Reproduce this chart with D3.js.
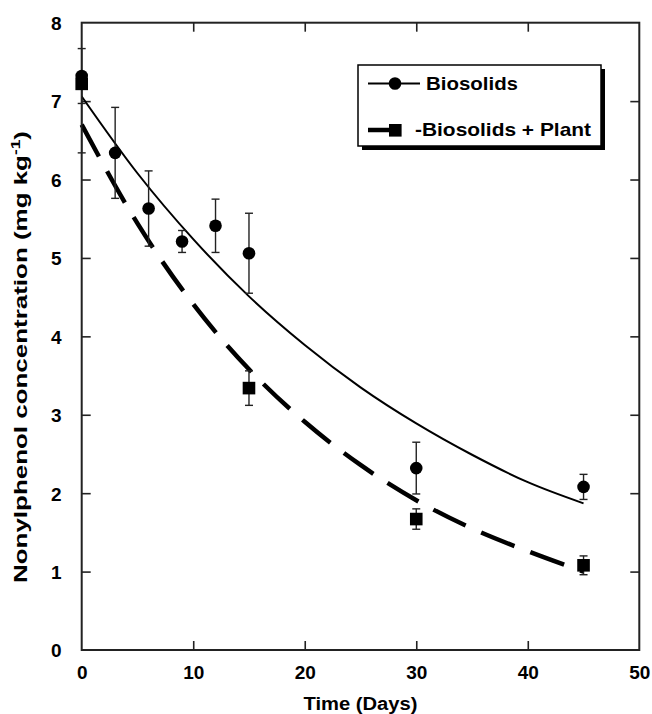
<!DOCTYPE html>
<html>
<head>
<meta charset="utf-8">
<script src="https://cdn.jsdelivr.net/npm/d3@7"></script>
<style>
  html, body { margin: 0; padding: 0; background: #fff; }
  svg { display: block; }
  text { font-family: "Liberation Sans", Arial, Helvetica, sans-serif; font-weight: bold; fill: #000; }
</style>
</head>
<body>
<svg id="chart" width="652" height="714"></svg>
<script>
// ---- data ----
const days = [0, 3, 6, 9, 12, 15, 30, 45];
const biosolids = [7.32, 6.34, 5.63, 5.21, 5.41, 5.06, 2.32, 2.08];
const biosolidsErrUp = [0.35, 0.58, 0.48, 0.14, 0.34, 0.51, 0.33, 0.16];
const biosolidsErrLow = [0.35, 0.58, 0.48, 0.14, 0.34, 0.51, 0.33, 0.16];

const plantDays = [0, 15, 30, 45];
const plant = [7.22, 3.34, 1.67, 1.08];
const plantErrUp = [0.05, 0.22, 0.13, 0.12];
const plantErrLow = [0.88, 0.22, 0.13, 0.12];

const fitDays = [0, 5, 10, 15, 20, 25, 30, 35, 40, 45];
const biosolidsFit = [7.06, 6.08, 5.24, 4.51, 3.89, 3.35, 2.89, 2.49, 2.14, 1.87];
const plantFit = [6.70, 5.44, 4.41, 3.58, 2.91, 2.36, 1.91, 1.55, 1.26, 1.00];

const xTicks = [0, 10, 20, 30, 40, 50];
const yTicks = [0, 1, 2, 3, 4, 5, 6, 7, 8];
const seriesNames = ["Biosolids", "-Biosolids + Plant"];
const xTitle = "Time (Days)";
const yTitle = "Nonylphenol concentration (mg kg";

// ---- layout ----
const svg = d3.select("#chart");
const L = 81.7, R = 639.3, T = 22.7, B = 650;
const x = d3.scaleLinear().domain([0, 50]).range([L, R]);
const y = d3.scaleLinear().domain([0, 8]).range([B, T]);
const axisColor = "#222";
const tickLen = 9;

// frame
svg.append("rect").attr("x", L).attr("y", T).attr("width", R - L).attr("height", B - T)
  .attr("fill", "none").attr("stroke", axisColor).attr("stroke-width", 2);

// axes with inward ticks
const gx = svg.append("g").attr("transform", `translate(0,${B})`)
  .call(d3.axisBottom(x).tickValues(xTicks).tickSizeInner(-tickLen).tickSizeOuter(0).tickPadding(16));
const gxt = svg.append("g").attr("transform", `translate(0,${T})`)
  .call(d3.axisTop(x).tickValues(xTicks.slice(1, -1)).tickSizeInner(-tickLen).tickSizeOuter(0).tickFormat(""));
const gy = svg.append("g").attr("transform", `translate(${L},0)`)
  .call(d3.axisLeft(y).tickValues(yTicks).tickSizeInner(-tickLen).tickSizeOuter(0).tickPadding(20));
const gyr = svg.append("g").attr("transform", `translate(${R},0)`)
  .call(d3.axisRight(y).tickValues(yTicks.slice(1, -1)).tickSizeInner(-tickLen).tickSizeOuter(0).tickFormat(""));
[gx, gxt, gy, gyr].forEach(g => {
  g.select(".domain").remove();
  g.selectAll(".tick line").attr("stroke", axisColor).attr("stroke-width", 1.6);
  g.selectAll(".tick text").style("font-size", "19px").style("font-family", '"Liberation Sans", Arial, sans-serif')
    .style("font-weight", "bold").attr("fill", "#000");
});
gx.selectAll(".tick").filter(d => d === 0 || d === 50).select("line").remove();
gy.selectAll(".tick").filter(d => d === 0 || d === 8).select("line").remove();
gx.selectAll(".tick text").attr("dy", "0.71em");
gy.selectAll(".tick text").attr("dy", "0.36em");

// titles
svg.append("text").attr("x", (L + R) / 2).attr("y", 710).attr("text-anchor", "middle")
  .style("font-size", "18px").attr("textLength", 114).attr("lengthAdjust", "spacingAndGlyphs").text(xTitle);

const yt = svg.append("text")
  .attr("transform", `translate(27,357) rotate(-90)`)
  .attr("text-anchor", "middle")
  .style("font-size", "18px")
  .attr("textLength", 452).attr("lengthAdjust", "spacingAndGlyphs");
yt.append("tspan").text(yTitle);
yt.append("tspan").attr("dy", -7).style("font-size", "12px").text("-1");
yt.append("tspan").attr("dy", 7).text(")");

// fitted curves
const lineGen = d3.line().x(d => x(d[0])).y(d => y(d[1])).curve(d3.curveMonotoneX);
svg.append("path").datum(fitDays.map((d, i) => [d, biosolidsFit[i]]))
  .attr("d", lineGen).attr("fill", "none").attr("stroke", "#000").attr("stroke-width", 2);
svg.append("path").datum(fitDays.map((d, i) => [d, plantFit[i]]))
  .attr("d", lineGen).attr("fill", "none").attr("stroke", "#000").attr("stroke-width", 4.5)
  .attr("stroke-dasharray", "36,17");

// error bars
function errorBars(xs, vs, up, low) {
  const g = svg.append("g").attr("stroke", "#222").attr("stroke-width", 1.4);
  xs.forEach((d, i) => {
    const cx = x(d), y1 = y(vs[i] + up[i]), y2 = y(vs[i] - low[i]);
    g.append("line").attr("x1", cx).attr("x2", cx).attr("y1", y1).attr("y2", y2);
    g.append("line").attr("x1", cx - 4).attr("x2", cx + 4).attr("y1", y1).attr("y2", y1);
    g.append("line").attr("x1", cx - 4).attr("x2", cx + 4).attr("y1", y2).attr("y2", y2);
  });
}
errorBars(days, biosolids, biosolidsErrUp, biosolidsErrLow);
errorBars(plantDays, plant, plantErrUp, plantErrLow);

// markers
svg.append("g").selectAll("circle").data(days).join("circle")
  .attr("cx", d => x(d)).attr("cy", (d, i) => y(biosolids[i])).attr("r", 6.3).attr("fill", "#000");
svg.append("g").selectAll("rect").data(plantDays).join("rect")
  .attr("x", d => x(d) - 6.3).attr("y", (d, i) => y(plant[i]) - 6.3)
  .attr("width", 12.6).attr("height", 12.6).attr("fill", "#000");

// legend
const lg = svg.append("g");
lg.append("rect").attr("x", 362).attr("y", 69).attr("width", 243).attr("height", 81).attr("fill", "#000");
lg.append("rect").attr("x", 358).attr("y", 65).attr("width", 243).attr("height", 81)
  .attr("fill", "#fff").attr("stroke", "#000").attr("stroke-width", 1.5);
lg.append("line").attr("x1", 368).attr("x2", 420).attr("y1", 83.5).attr("y2", 83.5)
  .attr("stroke", "#000").attr("stroke-width", 2);
lg.append("circle").attr("cx", 395).attr("cy", 83.5).attr("r", 6.3).attr("fill", "#000");
lg.append("text").attr("x", 426).attr("y", 89.5).style("font-size", "19px")
  .attr("textLength", 92).attr("lengthAdjust", "spacingAndGlyphs").text(seriesNames[0]);
lg.append("line").attr("x1", 368).attr("x2", 392).attr("y1", 130).attr("y2", 130)
  .attr("stroke", "#000").attr("stroke-width", 4.5);
lg.append("rect").attr("x", 389).attr("y", 124).attr("width", 12.6).attr("height", 12.6).attr("fill", "#000");
lg.append("text").attr("x", 415).attr("y", 136).style("font-size", "19px")
  .attr("textLength", 176).attr("lengthAdjust", "spacingAndGlyphs").text(seriesNames[1]);
</script>
</body>
</html>
